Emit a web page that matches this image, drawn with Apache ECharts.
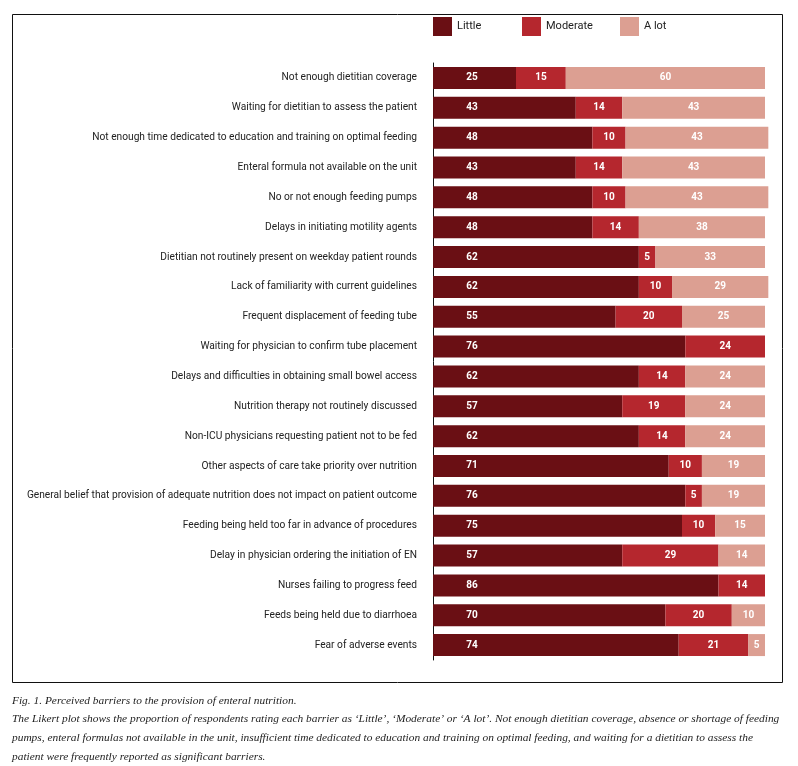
<!doctype html>
<html>
<head>
    <meta charset="utf-8">
    <title>Perceived barriers to the provision of enteral nutrition</title>
    <script src="https://cdn.jsdelivr.net/npm/echarts@6/dist/echarts.min.js"></script>
    <style>
        html, body { margin: 0; padding: 0; background: #fff; }
        #chart { width: 798px; height: 766px; }
    </style>
</head>
<body>
<div id="chart"></div>
<script type="text/javascript">
    // barriers, top to bottom
    var categories = [
        'Not enough dietitian coverage',
        'Waiting for dietitian to assess the patient',
        'Not enough time dedicated to education and training on optimal feeding',
        'Enteral formula not available on the unit',
        'No or not enough feeding pumps',
        'Delays in initiating motility agents',
        'Dietitian not routinely present on weekday patient rounds',
        'Lack of familiarity with current guidelines',
        'Frequent displacement of feeding tube',
        'Waiting for physician to confirm tube placement',
        'Delays and difficulties in obtaining small bowel access',
        'Nutrition therapy not routinely discussed',
        'Non-ICU physicians requesting patient not to be fed',
        'Other aspects of care take priority over nutrition',
        'General belief that provision of adequate nutrition does not impact on patient outcome',
        'Feeding being held too far in advance of procedures',
        'Delay in physician ordering the initiation of EN',
        'Nurses failing to progress feed',
        'Feeds being held due to diarrhoea',
        'Fear of adverse events'
    ];
    var little   = [25, 43, 48, 43, 48, 48, 62, 62, 55, 76, 62, 57, 62, 71, 76, 75, 57, 86, 70, 74];
    var moderate = [15, 14, 10, 14, 10, 14,  5, 10, 20, 24, 14, 19, 14, 10,  5, 10, 29, 14, 20, 21];
    var alot     = [60, 43, 43, 43, 43, 38, 33, 29, 25,  0, 24, 24, 24, 19, 19, 15, 14,  0, 10,  5];

    var captionTitle = 'Fig. 1. Perceived barriers to the provision of enteral nutrition.';
    var captionLines = [
        'The Likert plot shows the proportion of respondents rating each barrier as \u2018Little\u2019, \u2018Moderate\u2019 or \u2018A lot\u2019. Not enough dietitian coverage, absence or shortage of feeding',
        'pumps, enteral formulas not available in the unit, insufficient time dedicated to education and training on optimal feeding, and waiting for a dietitian to assess the',
        'patient were frequently reported as significant barriers.'
    ];

    var FONT = 'Roboto, "Liberation Sans", sans-serif';
    var CAPFONT = '"Liberation Serif", "DejaVu Serif", serif';

    function valueLabel(pos) {
        return {
            show: true,
            position: pos,
            align: 'center',
            verticalAlign: 'middle',
            color: '#fff',
            fontFamily: FONT,
            fontWeight: 'bold',
            fontSize: 10,
            formatter: function (p) { return p.value > 0 ? p.value : ''; }
        };
    }

    function legendAt(name, left) {
        return {
            data: [name],
            left: left,
            top: 12,
            itemWidth: 19,
            itemHeight: 19,
            itemGap: 6,
            icon: 'rect',
            selectedMode: false,
            textStyle: { fontFamily: FONT, fontSize: 11, color: '#222' }
        };
    }

    var caption = [{
        type: 'text', left: 12, top: 695,
        style: { text: captionTitle, font: 'italic 11.4px ' + CAPFONT, fill: '#222' }
    }];
    captionLines.forEach(function (line, i) {
        caption.push({
            type: 'text', left: 12, top: 713 + i * 19,
            style: { text: line, font: 'italic 11.4px ' + CAPFONT, fill: '#222' }
        });
    });

    var chart = echarts.init(document.getElementById('chart'));
    chart.setOption({
        animation: false,
        color: ['#6a0f14', '#b5272e', '#dc9f92'],
        legend: [legendAt('Little', 428), legendAt('Moderate', 517), legendAt('A lot', 615)],
        grid: { left: 433, top: 63, width: 348.6, height: 597, outerBoundsMode: 'none' },
        xAxis: {
            type: 'value', min: 0, max: 105,
            show: false
        },
        yAxis: {
            type: 'category',
            data: categories,
            inverse: true,
            axisLine: { show: true, lineStyle: { color: '#111', width: 1 } },
            axisTick: { show: false },
            axisLabel: { margin: 16, fontFamily: FONT, fontSize: 10.2, color: '#222' }
        },
        series: [
            { name: 'Little', type: 'bar', stack: 'all', barWidth: 22, data: little,
              label: valueLabel([39, '50%']) },
            { name: 'Moderate', type: 'bar', stack: 'all', barWidth: 22, data: moderate,
              label: valueLabel('inside') },
            { name: 'A lot', type: 'bar', stack: 'all', barWidth: 22, data: alot,
              label: valueLabel('inside') }
        ],
        graphic: [{
            type: 'rect', silent: true,
            shape: { x: 12.5, y: 14.5, width: 770, height: 668 },
            style: { fill: null, stroke: '#111', lineWidth: 1 }
        }].concat(caption)
    });
</script>
</body>
</html>
